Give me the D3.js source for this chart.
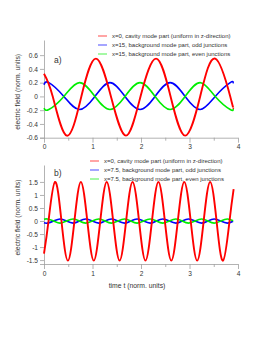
<!DOCTYPE html>
<html>
<head>
<meta charset="utf-8">
<script src="https://cdn.jsdelivr.net/npm/d3@7"></script>
<style>
  body { margin: 0; background: #fff; }
  svg { display: block; font-family: "Liberation Sans", Arial, sans-serif; }
  .axis path, .axis line { stroke: #a0a0a0; stroke-width: 0.8; }
  .axis text { fill: #333; font-size: 6.6px; }
</style>
</head>
<body>
<div class="container"></div>
<script>
// panel a) values, [t, field]
const redA = [[0, 0.33], [0.18, 0], [0.47, -0.57], [0.77, 0], [1.07, 0.55], [1.38, 0], [1.69, -0.57],
  [1.99, 0], [2.31, 0.55], [2.61, 0], [2.91, -0.57], [3.22, 0], [3.53, 0.55], [3.84, 0], [3.9, -0.17]];
const blueA = [[0, 0.17], [0.1, 0.2], [0.41, 0], [0.73, -0.19], [1.05, 0], [1.36, 0.2], [1.67, 0],
  [1.98, -0.19], [2.29, 0], [2.6, 0.2], [2.91, 0], [3.22, -0.19], [3.53, 0], [3.84, 0.2], [3.9, 0.19]];
const greenA = [[0, -0.17], [0.1, -0.19], [0.41, 0], [0.73, 0.2], [1.05, 0], [1.36, -0.19], [1.67, 0],
  [1.98, 0.2], [2.29, 0], [2.6, -0.19], [2.91, 0], [3.22, 0.2], [3.53, 0], [3.84, -0.19], [3.9, -0.18]];

// panel b)
const redB = [[0, -1.25], [0.093, 0], [0.227, 1.5], [0.36, 0], [0.493, -1.52], [0.627, 0], [0.76, 1.5],
  [0.893, 0], [1.026, -1.52], [1.16, 0], [1.293, 1.5], [1.426, 0], [1.559, -1.52], [1.693, 0],
  [1.826, 1.5], [1.96, 0], [2.092, -1.52], [2.226, 0], [2.359, 1.5], [2.492, 0], [2.625, -1.52],
  [2.759, 0], [2.892, 1.5], [3.025, 0], [3.158, -1.52], [3.292, 0], [3.425, 1.5], [3.558, 0],
  [3.691, -1.52], [3.825, 0], [3.91, 1.22]];
const blueB = [[0, -0.07], [0.07, -0.08], [0.2, 0], [0.33, 0.08], [0.465, 0], [0.6, -0.08], [0.73, 0],
  [0.86, 0.08], [0.995, 0], [1.13, -0.08], [1.26, 0], [1.39, 0.08], [1.525, 0], [1.66, -0.08],
  [1.79, 0], [1.92, 0.08], [2.055, 0], [2.19, -0.08], [2.32, 0], [2.45, 0.08], [2.585, 0],
  [2.72, -0.08], [2.85, 0], [2.98, 0.08], [3.115, 0], [3.25, -0.08], [3.38, 0], [3.51, 0.08],
  [3.645, 0], [3.78, -0.08], [3.9, -0.01]];
const greenB = [[0, 0.07], [0.07, 0.08], [0.2, 0], [0.33, -0.08], [0.465, 0], [0.6, 0.08], [0.73, 0],
  [0.86, -0.08], [0.995, 0], [1.13, 0.08], [1.26, 0], [1.39, -0.08], [1.525, 0], [1.66, 0.08],
  [1.79, 0], [1.92, -0.08], [2.055, 0], [2.19, 0.08], [2.32, 0], [2.45, -0.08], [2.585, 0],
  [2.72, 0.08], [2.85, 0], [2.98, -0.08], [3.115, 0], [3.25, 0.08], [3.38, 0], [3.51, -0.08],
  [3.645, 0], [3.78, 0.08], [3.9, 0.01]];

const xTicks = [0, 1, 2, 3, 4];
const xMinor = [0.5, 1.5, 2.5, 3.5];
const yTicksA = [-0.6, -0.4, -0.2, 0, 0.2, 0.4, 0.6];
const yTicksB = [-1.5, -1, -0.5, 0, 0.5, 1, 1.5];
const colors = ['#ff0000', '#0000ff', '#00ee00'];
const legendA = ['x=0, cavity mode part (uniform  in z-direction)',
  'x=15, background mode part, odd junctions',
  'x=15, background mode part,  even junctions'];
const legendB = ['x=0, cavity mode part (uniform in z-direction)',
  'x=7.5, background mode part, odd junctions',
  'x=7.5, background mode part,  even junctions'];

const svg = d3.select('div.container').append('svg')
  .attr('width', 274).attr('height', 355);

const x = d3.scaleLinear().domain([0, 4]).range([44, 238]);

const drawPanel = (opt) => {
  const y = d3.scaleLinear().domain(opt.yDomain).range(opt.yRange);
  const g = svg.append('g');
  const bottom = opt.yRange[0];

  // minor x ticks
  g.append('g').attr('class', 'axis')
    .attr('transform', 'translate(0,' + bottom + ')')
    .call(d3.axisBottom(x).tickValues(xMinor).tickSize(3).tickFormat(''))
    .select('.domain').remove();
  const xa = g.append('g').attr('class', 'axis')
    .attr('transform', 'translate(0,' + bottom + ')')
    .call(d3.axisBottom(x).tickValues(xTicks).tickSizeInner(5).tickSizeOuter(0).tickPadding(2).tickFormat(d3.format('d')));
  xa.select('.domain').attr('d', 'M40,0.5H238');

  g.append('g').attr('class', 'axis')
    .attr('transform', 'translate(' + x(0) + ',0)')
    .call(d3.axisLeft(y).tickValues(opt.yTicks).tickSizeInner(4).tickSizeOuter(0).tickPadding(2)
      .tickFormat(d => d === 0 ? '0' : String(d)));

  const line = d3.line().x(d => x(d[0])).y(d => y(d[1])).curve(d3.curveNatural);
  // blue and green first, red drawn on top
  [1, 2, 0].forEach(i => {
    g.append('path').datum(opt.series[i])
      .attr('fill', 'none')
      .attr('stroke', colors[i])
      .attr('stroke-width', i === 0 ? 1.9 : 1.6)
      .attr('d', line);
  });

  const lg = g.append('g');
  opt.legend.forEach((t, i) => {
    const ly = opt.legendY + i * 9;
    lg.append('line').attr('x1', opt.legendX).attr('x2', opt.legendX + 9)
      .attr('y1', ly).attr('y2', ly).attr('stroke', colors[i]).attr('stroke-width', 1)
      .attr('opacity', 0.7);
    lg.append('text').attr('x', opt.legendX + 14).attr('y', ly + 2)
      .attr('font-size', 6.0).attr('fill', '#333').text(t);
  });

  g.append('text').attr('x', 54).attr('y', opt.tagY).attr('font-size', 8.5).attr('fill', '#333').text(opt.tag);

  const mid = (opt.yRange[0] + opt.yRange[1]) / 2 + 3;
  g.append('text').attr('transform', 'translate(19.5,' + mid + ') rotate(-90)')
    .attr('text-anchor', 'middle').attr('font-size', 6.8).attr('fill', '#333')
    .text('electric field (norm. units)');
};

drawPanel({ yDomain: [-0.6, 0.82], yRange: [137.7, 40], yTicks: yTicksA,
  series: [redA, blueA, greenA], legend: legendA, legendX: 98, legendY: 36, tag: 'a)', tagY: 63 });
drawPanel({ yDomain: [-1.65, 2.15], yRange: [264, 165], yTicks: yTicksB,
  series: [redB, blueB, greenB], legend: legendB, legendX: 90, legendY: 161, tag: 'b)', tagY: 176 });

svg.append('text').attr('x', 137).attr('y', 288).attr('text-anchor', 'middle')
  .attr('font-size', 6.8).attr('fill', '#333').text('time t (norm. units)');
</script>
</body>
</html>
